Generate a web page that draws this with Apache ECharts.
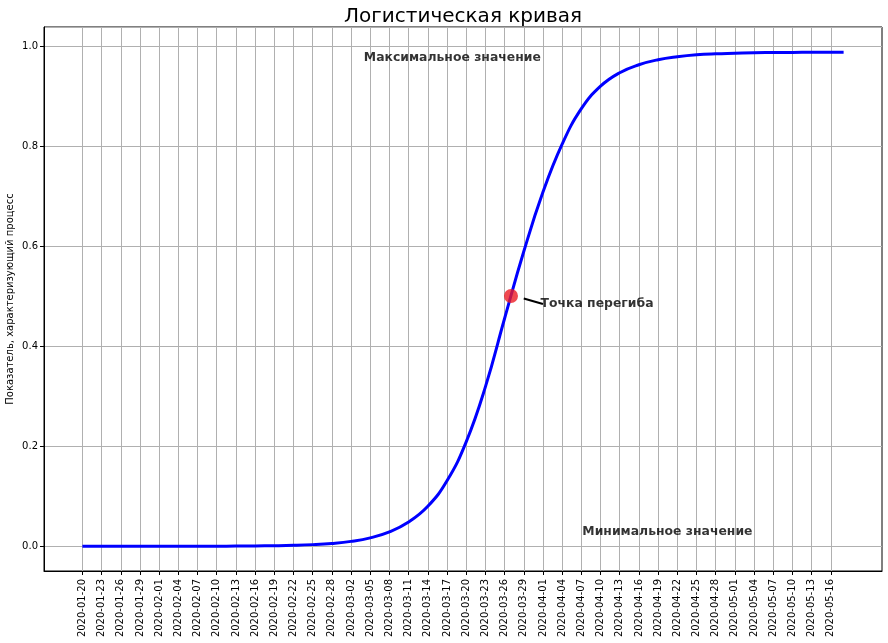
<!DOCTYPE html>
<html>
<head>
<meta charset="utf-8">
<script src="https://cdn.jsdelivr.net/npm/echarts@6/dist/echarts.min.js"></script>
<style>
html,body{margin:0;padding:0;background:#fff;}
#chart{width:888px;height:643px;}
</style>
</head>
<body>
<div id="chart"></div>
<script>
// ---- data ----
const titleText = 'Логистическая кривая';
const yAxisTitle = 'Показатель, характеризующий процесс';

// tick labels on x (every 3 days)
const tickLabels = [
  '2020-01-20','2020-01-23','2020-01-26','2020-01-29','2020-02-01','2020-02-04','2020-02-07',
  '2020-02-10','2020-02-13','2020-02-16','2020-02-19','2020-02-22','2020-02-25','2020-02-28',
  '2020-03-02','2020-03-05','2020-03-08','2020-03-11','2020-03-14','2020-03-17','2020-03-20',
  '2020-03-23','2020-03-26','2020-03-29','2020-04-01','2020-04-04','2020-04-07','2020-04-10',
  '2020-04-13','2020-04-16','2020-04-19','2020-04-22','2020-04-25','2020-04-28','2020-05-01',
  '2020-05-04','2020-05-07','2020-05-10','2020-05-13','2020-05-16'
];

// sampled points of the curve
const curveDates = [
  '2020-01-20','2020-01-23','2020-01-26','2020-01-29','2020-02-01','2020-02-04','2020-02-07',
  '2020-02-10','2020-02-13','2020-02-16','2020-02-19','2020-02-22','2020-02-25','2020-02-28',
  '2020-03-02','2020-03-05','2020-03-08','2020-03-11','2020-03-14','2020-03-17','2020-03-20',
  '2020-03-23','2020-03-26','2020-03-29','2020-04-01','2020-04-04','2020-04-07',
  '2020-04-10','2020-04-13','2020-04-16','2020-04-19','2020-04-22','2020-04-25','2020-04-28',
  '2020-05-01','2020-05-04','2020-05-07','2020-05-10','2020-05-13','2020-05-16','2020-05-18'
];
const curveValues = [
  0.0000, 0.0000, 0.0000, 0.0000, 0.0000, 0.0001, 0.0001,
  0.0002, 0.0004, 0.0006, 0.0011, 0.0019, 0.0033, 0.0057,
  0.0098, 0.0168, 0.0288, 0.0485, 0.0800, 0.1310, 0.2090,
  0.3190, 0.4560, 0.5900, 0.7090, 0.8050, 0.8760,
  0.9210, 0.9480, 0.9640, 0.9740, 0.9800, 0.9840, 0.9860,
  0.9870, 0.9880, 0.9883, 0.9886, 0.9888, 0.9889, 0.9890
];

// inflection point marker
const inflectionDate = '2020-03-27';
const inflectionValue = 0.501;

// annotations
const annotTexts = ['Максимальное значение', 'Точка перегиба', 'Минимальное значение'];
const annotDates = ['2020-03-04', '2020-03-31', '2020-04-07'];
const annotValues = [0.977, 0.486, 0.030];

// arrow from the label towards the point
const arrowFrom = ['2020-04-01', 0.485];
const arrowTo = ['2020-03-29', 0.496];

// axis extent (matplotlib 5% margins)
const axisStartDate = '2020-01-14';
const axisEndDate = '2020-05-24';
const yMin = -0.0495, yMax = 1.0395;

// ---- build full daily category list ----
function buildDays(a, b) {
  const out = [];
  let t = Date.parse(a + 'T00:00:00Z');
  const e = Date.parse(b + 'T00:00:00Z');
  while (t <= e) {
    out.push(new Date(t).toISOString().slice(0, 10));
    t += 86400000;
  }
  return out;
}
const categories = buildDays(axisStartDate, axisEndDate);
const tickSet = new Set(tickLabels);
const isTick = (idx, val) => tickSet.has(val != null ? val : categories[idx]);
const labelShift = [0, 4, 1];

const FONT = 'DejaVu Sans';
const chart = echarts.init(document.getElementById('chart'), null, {renderer: 'canvas'});
chart.setOption({
  animation: false,
  backgroundColor: '#ffffff',
  title: {
    text: titleText,
    left: 344, top: 7, padding: 0,
    textStyle: {fontFamily: FONT, fontSize: 20, fontWeight: 'normal', color: '#000'}
  },
  grid: {
    left: 44, right: 6, top: 27, bottom: 72,
    show: true, borderColor: '#000', borderWidth: 1,
    containLabel: false, outerBoundsMode: 'none'
  },
  xAxis: {
    type: 'category',
    data: categories,
    boundaryGap: false,
    axisLine: {show: true, onZero: false, lineStyle: {color: '#000', width: 1}},
    axisTick: {show: true, length: 4, interval: isTick, lineStyle: {color: '#000'}},
    axisLabel: {
      interval: isTick, rotate: 90, margin: 8,
      fontFamily: FONT, fontSize: 10, color: '#000'
    },
    splitLine: {show: true, interval: isTick, lineStyle: {color: '#b0b0b0', width: 1}}
  },
  yAxis: {
    type: 'value',
    min: yMin, max: yMax, splitNumber: 5,
    name: yAxisTitle,
    nameLocation: 'middle', nameGap: 29, nameRotate: 90,
    nameMoveOverlap: false,
    nameTextStyle: {fontFamily: FONT, fontSize: 10, color: '#000'},
    axisLine: {show: true, onZero: false, lineStyle: {color: '#000', width: 1}},
    axisTick: {show: true, length: 4, lineStyle: {color: '#000'}},
    axisLabel: {
      showMinLabel: false, showMaxLabel: false, margin: 6,
      fontFamily: FONT, fontSize: 10, color: '#000',
      formatter: v => v.toFixed(1)
    },
    splitLine: {show: true, lineStyle: {color: '#b0b0b0', width: 1}}
  },
  series: [
    {
      type: 'line',
      data: curveDates.map((d, i) => [d, curveValues[i]]),
      smooth: 0.45,
      showSymbol: false,
      lineStyle: {color: '#0000ff', width: 3},
      itemStyle: {color: '#0000ff'},
      z: 3,
      markLine: {
        silent: true,
        symbol: ['none', 'arrow'],
        symbolSize: [0, 6],
        label: {show: false},
        lineStyle: {color: '#000', width: 2, type: 'solid'},
        data: [[{coord: arrowFrom}, {coord: arrowTo}]]
      }
    },
    {
      type: 'scatter',
      data: [[inflectionDate, inflectionValue]],
      symbolSize: 14,
      itemStyle: {color: '#ec1c24'},
      z: 5
    },
    {
      type: 'scatter',
      data: annotDates.map((d, i) => ({
        value: [d, annotValues[i]], name: annotTexts[i],
        label: {offset: [labelShift[i], 0]}
      })),
      symbolSize: 0,
      z: 6,
      label: {
        show: true, position: 'right', distance: 0,
        formatter: p => p.name,
        fontFamily: FONT, fontSize: 12.4, fontWeight: 'bold', color: '#000'
      }
    }
  ]
});
</script>
</body>
</html>
